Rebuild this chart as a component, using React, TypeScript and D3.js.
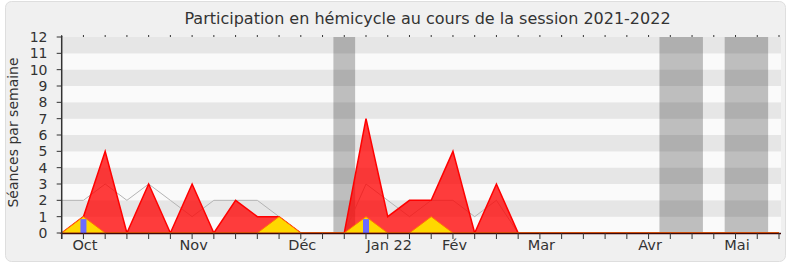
import React from "react";
import * as d3 from "d3";

const title = "Participation en hémicycle au cours de la session 2021-2022";
const yLabel = "Séances par semaine";
const weeks = d3.range(34);
const presenceValues = [0, 1, 5, 0, 3, 0, 3, 0, 2, 1, 1, 0, 0, 0, 7, 1, 2, 2, 5, 0, 3, 0, 0, 0, 0, 0, 0, 0, 0, 0, 0, 0, 0, 0];
const medianValues = [2, 2, 3, 2, 3, 2, 1, 2, 2, 2, 1, 0, 0, 0, 3, 2, 1, 2, 2, 1, 2, 0, 0, 0, 0, 0, 0, 0, 0, 0, 0, 0, 0, 0];
const questionValues = [0, 1, 0, 0, 0, 0, 0, 0, 0, 0, 1, 0, 0, 0, 1, 0, 0, 1, 0, 0, 0, 0, 0, 0, 0, 0, 0, 0, 0, 0, 0, 0, 0, 0];
const barWeeks = [1, 14];
const barValues = [0.85, 0.85];
const holidayStarts = [12.5, 27.5, 30.5];
const holidayEnds = [13.5, 29.5, 32.5];
const monthLabels = ["Oct", "Nov", "Déc", "Jan 22", "Fév", "Mar", "Avr", "Mai"];
const monthWeeks = [1, 6, 11, 15, 18, 22, 27, 31];
const yTicks = d3.range(0, 13);

export default function App() {
  const W = 790, H = 267;
  const x = d3.scaleLinear().domain([0, 33]).range([61.7, 779]);
  const y = d3.scaleLinear().domain([0, 12]).range([233, 37]);
  const plotL = 61.7, plotR = 781;
  const font = "'DejaVu Sans', Verdana, sans-serif";

  const area = (vals: number[]) =>
    d3.area<number>().x((d, i) => x(weeks[i])).y0(y(0)).y1((d) => y(d))(vals) || "";
  const line = (vals: number[]) =>
    d3.line<number>().x((d, i) => x(weeks[i])).y((d) => y(d))(vals) || "";

  return (
    <svg width={W} height={H} style={{ position: "absolute", left: 0, top: 0 }} fontFamily={font}>
      <rect x={0} y={0} width={W} height={H} fill="#ffffff" />
      <rect x={5.5} y={1.5} width={780} height={260} rx={6} fill="#f0f0f0" stroke="#dedede" />
      <text x={427.5} y={23.5} textAnchor="middle" fontSize={16} fill="#333">{title}</text>
      {d3.range(12).map((k) => (
        <rect key={k} x={plotL} y={y(k + 1)} width={plotR - plotL} height={y(k) - y(k + 1)}
          fill={k % 2 === 1 ? "#e6e6e6" : "#fafafa"} />
      ))}
      {holidayStarts.map((s, i) => (
        <rect key={i} x={x(s)} y={y(12)} width={x(holidayEnds[i]) - x(s)} height={y(0) - y(12)}
          fill="#000" fillOpacity={0.24} />
      ))}
      <path d={line(medianValues)} fill="none" stroke="#b4b4b4" strokeWidth={1} />
      <path d={area(presenceValues)} fill="rgba(255,0,0,0.76)" stroke="#ff0000" strokeWidth={1.5} strokeLinejoin="miter" />
      <path d={area(questionValues)} fill="#ffd700" stroke="#ff7a00" strokeWidth={1} />
      {barWeeks.map((w, i) => (
        <rect key={i} x={x(w) - 3} y={y(barValues[i])} width={6} height={y(0) - y(barValues[i])} fill="#6b6bff" />
      ))}
      <line x1={plotL} x2={plotR} y1={y(0) + 0.5} y2={y(0) + 0.5} stroke="#400808" strokeWidth={1.5} />
      <line x1={plotL} x2={plotL} y1={y(12) - 1} y2={y(0) + 6} stroke="#333" strokeWidth={1.5} />
      {yTicks.map((t) => (
        <g key={t}>
          <line x1={plotL - 5} x2={plotL} y1={y(t)} y2={y(t)} stroke="#333" strokeWidth={1} />
          <text x={47.5} y={y(t) + 5} textAnchor="end" fontSize={14} fill="#333">{t}</text>
        </g>
      ))}
      {weeks.map((w) => (
        <g key={w}>
          <line x1={x(w)} x2={x(w)} y1={y(0)} y2={y(0) + 6} stroke="#333" strokeWidth={1} />
          <line x1={x(w)} x2={x(w)} y1={y(12) - 2} y2={y(12)} stroke="#333" strokeWidth={1} />
        </g>
      ))}
      {monthLabels.map((m, i) => (
        <text key={m} x={x(monthWeeks[i]) + 1.5} y={250} textAnchor="middle" fontSize={14.5} fill="#333">{m}</text>
      ))}
      <text transform={`translate(18,${132.5}) rotate(-90)`} textAnchor="middle" fontSize={14} fill="#333">{yLabel}</text>
    </svg>
  );
}
